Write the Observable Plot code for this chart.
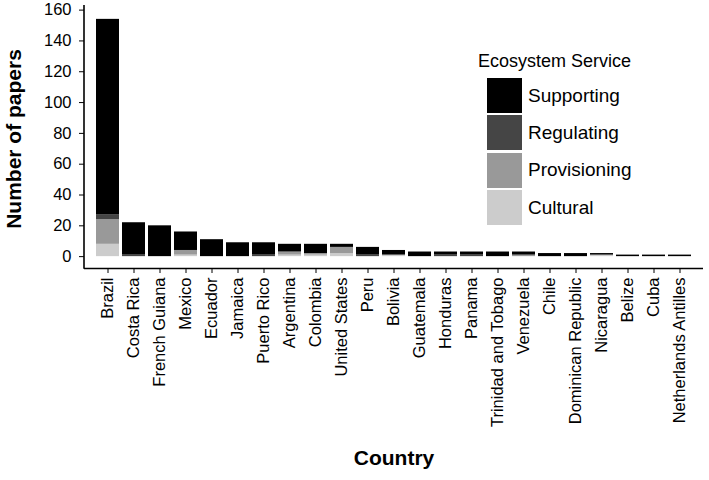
<!DOCTYPE html>
<html>
<head>
<meta charset="utf-8">
<script src="https://cdn.jsdelivr.net/npm/d3@7"></script>
<script src="https://cdn.jsdelivr.net/npm/@observablehq/plot@0.6"></script>
<style>
  body { margin: 0; background: #fff; }
  #wrap { position: relative; width: 709px; height: 480px; font-family: "Liberation Sans", Arial, sans-serif; }
  #legend { position: absolute; left: 478px; top: 51px; }
  #legend .title { font-size: 18px; color: #000; margin-bottom: 5px; white-space: nowrap; }
  #legend .row { display: flex; align-items: center; height: 37.3px; }
  #legend .sw { width: 35px; height: 35px; margin-left: 9px; margin-right: 6px; }
  #legend .lab { font-size: 19px; color: #000; }
</style>
</head>
<body>
<div id="wrap"></div>
<script>
const countries = ["Brazil","Costa Rica","French Guiana","Mexico","Ecuador","Jamaica","Puerto Rico","Argentina","Colombia","United States","Peru","Bolivia","Guatemala","Honduras","Panama","Trinidad and Tobago","Venezuela","Chile","Dominican Republic","Nicaragua","Belize","Cuba","Netherlands Antilles"];
const supporting   = [127,21,20,12,11,9,8,5,6,2,5,3,3,2,2,3,2,2,2,1,1,1,1];
const regulating   = [3,1,0,0,0,0,1,0,0,0,1,0,0,1,1,0,0,0,0,0,0,0,0];
const provisioning = [16,0,0,3,0,0,0,2,1,4,0,0,0,0,0,0,1,0,0,0,0,0,0];
const cultural     = [8,0,0,1,0,0,0,1,1,2,0,1,0,0,0,0,0,0,0,1,0,0,0];
const services = ["Supporting","Regulating","Provisioning","Cultural"];
const serviceColors = ["#000000","#454545","#999999","#cccccc"];
const yTicks = [0,20,40,60,80,100,120,140,160];

const seriesMap = {Supporting: supporting, Regulating: regulating, Provisioning: provisioning, Cultural: cultural};
const rows = [];
for (const s of ["Cultural","Provisioning","Regulating","Supporting"]) {
  countries.forEach((c, i) => rows.push({country: c, service: s, n: seriesMap[s][i]}));
}
const maxTotal = d3.max(countries.map((c, i) => supporting[i] + regulating[i] + provisioning[i] + cultural[i]));
const pad = maxTotal * 0.05;

const font = "Liberation Sans, Arial, sans-serif";
const chart = Plot.plot({
  width: 709,
  height: 480,
  marginLeft: 84,
  marginRight: 6,
  marginTop: 7,
  marginBottom: 212,
  style: {fontFamily: font, fontSize: "16.5px", color: "#000", background: "#fff"},
  x: {domain: countries, paddingInner: 0.1, paddingOuter: 0.15, label: null},
  y: {domain: [-pad, maxTotal + pad], label: null},
  color: {domain: services, range: serviceColors},
  marks: [
    Plot.barY(rows, Plot.stackY({x: "country", y: "n", fill: "service", order: ["Cultural","Provisioning","Regulating","Supporting"]})),
    Plot.axisY({ticks: yTicks, tickSize: 5, tickPadding: 8, fontSize: 16.5, label: null}),
    Plot.axisX({tickSize: 5, tickPadding: 4, tickRotate: -90, fontSize: 16.5, label: null}),
    Plot.ruleY([-pad], {stroke: "#000", strokeWidth: 1.6}),
    (index, scales, values, dims) => {
      const l = dims.marginLeft;
      const p = document.createElementNS("http://www.w3.org/2000/svg", "line");
      p.setAttribute("x1", l); p.setAttribute("x2", l);
      p.setAttribute("y1", dims.marginTop - 2); p.setAttribute("y2", dims.height - dims.marginBottom + 0.8);
      p.setAttribute("stroke", "#000"); p.setAttribute("stroke-width", 1.6);
      return p;
    },
    Plot.text(["Country"], {frameAnchor: "bottom", dy: 196, fontSize: 21, fontWeight: "bold", textAnchor: "middle"}),
    Plot.text(["Number of papers"], {frameAnchor: "left", dx: -70, dy: 1, rotate: -90, fontSize: 21, fontWeight: "bold", textAnchor: "middle"})
  ]
});

const wrap = document.getElementById("wrap");
wrap.appendChild(chart);
const legend = document.createElement("div");
legend.id = "legend";
legend.innerHTML = `<div class="title">Ecosystem Service</div>` +
  services.map((s, i) => `<div class="row"><div class="sw" style="background:${serviceColors[i]}"></div><div class="lab">${s}</div></div>`).join("");
wrap.appendChild(legend);
</script>
</body>
</html>
